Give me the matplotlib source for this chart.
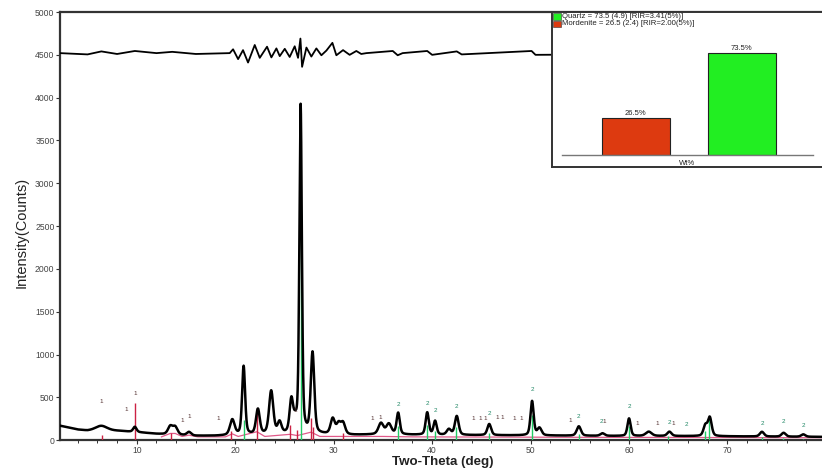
import numpy as np
import matplotlib
matplotlib.use("Agg")
import matplotlib.pyplot as plt
from matplotlib.patches import Rectangle

plt.rcParams['font.family'] = ['Liberation Sans', 'DejaVu Sans']

# ---------------- data ----------------
# background knots (2-theta, counts)
bg_x = [2.2, 3, 4, 5, 6, 8, 10, 12, 14, 16, 18, 20, 22, 24, 26, 28, 30, 32, 34, 36, 38, 40,
        44, 48, 52, 56, 60, 64, 68, 72, 76, 79.6]
bg_y = [170, 150, 125, 112, 115, 110, 95, 75, 62, 52, 52, 58, 65, 70, 72, 70, 66, 62, 66, 68, 64, 62,
        60, 58, 55, 52, 50, 50, 48, 45, 42, 40]

# diffraction peaks: position (deg), height above background (counts), FWHM (deg)
peak_pos = [6.4, 9.8, 13.4, 13.9, 15.3, 19.7, 20.85, 22.3, 23.65, 24.5, 25.7, 26.1, 26.64, 27.85,
            29.9, 30.5, 30.95, 34.8, 35.6, 36.55, 39.5, 40.3, 41.7, 42.5, 45.8, 50.15, 50.9,
            54.9, 57.3, 60.0, 62.0, 64.1, 67.75, 68.2, 73.5, 75.7, 77.7]
peak_h = [55, 60, 95, 90, 40, 180, 800, 290, 500, 130, 380, 110, 3830, 940,
          180, 120, 130, 130, 120, 250, 260, 160, 65, 220, 130, 400, 85,
          110, 30, 205, 50, 50, 120, 215, 55, 45, 28]
peak_w = [1.4, 0.4, 0.55, 0.55, 0.5, 0.55, 0.36, 0.45, 0.5, 0.45, 0.42, 0.4, 0.3, 0.42,
          0.5, 0.5, 0.5, 0.6, 0.6, 0.38, 0.38, 0.38, 0.5, 0.45, 0.45, 0.38, 0.5,
          0.5, 0.5, 0.38, 0.7, 0.5, 0.45, 0.45, 0.5, 0.5, 0.5]

# difference curve (offset around 4520 counts)
res_base = 4520
res_x = [2.2, 5, 6.4, 8, 9.8, 12, 13.6, 16, 19.44, 19.78, 20.29, 20.79, 21.30, 21.98, 22.49, 23.23,
         23.67, 24.18, 24.52, 25.03, 25.53, 26.04, 26.38, 26.62, 26.79, 27.23, 27.73, 28.24, 28.75,
         29.26, 29.87, 30.27, 30.95, 31.62, 32.30, 32.8, 33.32, 36.0, 36.5, 37.0, 39.5, 40.0,
         42.5, 43.0, 50.1, 50.5, 79.6]
res_y = [0, -15, 20, -10, 25, 0, 15, -10, 0, 45, -70, 35, -110, 95, -55, 75,
         -50, 55, -35, 50, -45, 80, -55, 170, -160, 65, -40, 55, -25,
         30, 120, -25, 35, -20, 25, -10, 0, 25, -25, 0, 25, -20,
         20, -15, 25, -20, 0]

# reference sticks
quartz_pos = [20.86, 26.64, 36.54, 39.47, 40.29, 42.45, 45.79, 50.14, 54.87, 59.96, 64.0, 67.74, 68.14, 73.47, 75.66, 77.67]
quartz_h = [240, 2650, 170, 180, 110, 150, 90, 300, 70, 170, 50, 110, 270, 40, 30, 20]
mord_pos = [6.5, 9.77, 13.45, 19.6, 22.2, 25.6, 26.25, 27.67, 27.9, 30.9]
mord_h = [60, 430, 90, 110, 380, 180, 120, 260, 150, 90]

# calculated mordenite profile (pink), knots
pink_x = [12.5, 13.4, 13.9, 14.6, 15.3, 16.2, 19.0, 19.7, 20.3, 22.2, 23.0, 25.6, 26.3, 27.7, 28.6,
          35.0, 38.0, 45.0, 55.0, 65.0, 79.6]
pink_y = [40, 80, 80, 45, 60, 40, 40, 75, 45, 100, 45, 70, 55, 95, 45, 45, 40, 38, 35, 33, 30]

# peak tags
tag1_pos = [6.4, 8.9, 9.8, 14.6, 15.3, 18.3, 26.1, 33.9, 34.7, 44.2, 44.9, 45.4, 46.6, 47.1, 48.3, 49.0,
            54.0, 57.5, 60.8, 62.9, 64.5]
tag1_h = [420, 330, 520, 200, 250, 220, 320, 230, 240, 230, 220, 220, 240, 240, 230, 220,
          200, 190, 170, 170, 170]
tag2_pos = [36.55, 39.5, 40.3, 42.5, 45.8, 50.15, 54.9, 57.2, 60.0, 64.1, 65.8, 73.5, 75.7, 77.7]
tag2_h = [390, 400, 320, 360, 280, 560, 250, 190, 370, 180, 160, 170, 190, 140]

# inset bar chart
phases = ['Mordenite', 'Quartz']
wt_pct = [26.5, 73.5]
phase_colors = ['#dd3a10', '#22ee22']
legend_lines = ['Quartz = 73.5 (4.9) [RIR=3.41(5%)]', 'Mordenite = 26.5 (2.4) [RIR=2.00(5%)]']
legend_colors = ['#22ee22', '#dd3a10']

# ---------------- model curve from read peaks ----------------
tt = np.arange(2.2, 79.6, 0.01)
counts = np.interp(tt, bg_x, bg_y)
for p, h, w in zip(peak_pos, peak_h, peak_w):
    g = np.exp(-4 * np.log(2) * ((tt - p) / w) ** 2)
    l = 1.0 / (1.0 + 4 * ((tt - p) / w) ** 2)
    counts = counts + h * (0.6 * g + 0.4 * l)

# ---------------- figure ----------------
fig = plt.figure(figsize=(8.22, 4.69), dpi=100)
ax = fig.add_axes([0.073, 0.0612, 0.927, 0.9132])

ax.plot(pink_x, pink_y, color='#e05a8a', lw=0.9, zorder=2)
ax.vlines(quartz_pos, 0, quartz_h, color='#22cc66', lw=1.0, zorder=3)
ax.vlines(mord_pos, 0, mord_h, color='#cc2244', lw=1.0, zorder=3)
ax.plot(tt, counts, color='black', lw=1.8, zorder=4)
ax.plot(res_x, np.array(res_y) + res_base, color='black', lw=1.3, zorder=4)

for p, h in zip(tag1_pos, tag1_h):
    ax.text(p, h, '1', fontsize=4.5, color='#553333', ha='center', va='bottom', zorder=5)
for p, h in zip(tag2_pos, tag2_h):
    ax.text(p, h, '2', fontsize=4.5, color='#228866', ha='center', va='bottom', zorder=5)

ax.set_xlim(2.2, 79.6)
ax.set_ylim(0, 5000)
ax.set_xticks(np.arange(10, 80, 10))
ax.set_xticks(np.arange(4, 80, 2), minor=True)
ax.set_yticks(np.arange(0, 5001, 500))
ax.tick_params(axis='both', which='major', labelsize=6.2, labelcolor='#444444', color='#333333',
               length=3, width=0.8, direction='out', pad=1.0)
ax.tick_params(axis='x', which='minor', length=2.5, width=0.7, color='#333333', direction='out')
for s in ['left', 'bottom', 'top']:
    ax.spines[s].set_color('#333333')
    ax.spines[s].set_linewidth(1.6)
ax.spines['right'].set_visible(False)

fig.text(22 / 822, 0.505, 'Intensity(Counts)', rotation=90, ha='center', va='center',
         fontsize=10.5, color='#222222')
fig.text(443 / 822, 1 - 467.5 / 469, 'Two-Theta (deg)', ha='center', va='bottom',
         fontsize=9.6, fontweight='bold', color='#222222')

# ---------------- inset ----------------
frame = fig.add_axes([0.6712, 0.6446, 0.3288, 0.3305], zorder=10)
frame.set_facecolor('white')
frame.set_xticks([]); frame.set_yticks([])
frame.set_xlim(0, 1); frame.set_ylim(0, 1)
for s in ['left', 'bottom', 'top']:
    frame.spines[s].set_color('#333333')
    frame.spines[s].set_linewidth(1.4)
frame.spines['right'].set_visible(False)

for i, (txt, col) in enumerate(zip(legend_lines, legend_colors)):
    y0 = 0.948 - i * 0.048
    frame.add_patch(Rectangle((0.004, y0), 0.03, 0.042, facecolor=col, edgecolor='#333333', lw=0.4))
    frame.text(0.038, y0 + 0.021, txt, fontsize=5.6, color='#222222', va='center', ha='left')

bars_ax = fig.add_axes([0.6833, 0.6695, 0.3057, 0.2951], zorder=11)
bars_ax.patch.set_alpha(0)
bx = np.arange(len(phases))
bars_ax.bar(bx, wt_pct, width=0.645, color=phase_colors, edgecolor='#222222', linewidth=0.8)
for xi, v in zip(bx, wt_pct):
    bars_ax.text(xi, v + 1, f'{v}%', ha='center', va='bottom', fontsize=5.5, color='#222222')
bars_ax.set_xlim(-0.699, 1.671)
bars_ax.set_ylim(0, 100)
bars_ax.set_xticks([]); bars_ax.set_yticks([])
for s in ['left', 'right', 'top']:
    bars_ax.spines[s].set_visible(False)
bars_ax.spines['bottom'].set_color('#777777')
bars_ax.spines['bottom'].set_linewidth(1.0)
bars_ax.text(0.5, -0.035, 'Wt%', transform=bars_ax.transAxes, ha='center', va='top',
             fontsize=5.5, color='#222222')

fig.savefig('out.png', dpi=100)
